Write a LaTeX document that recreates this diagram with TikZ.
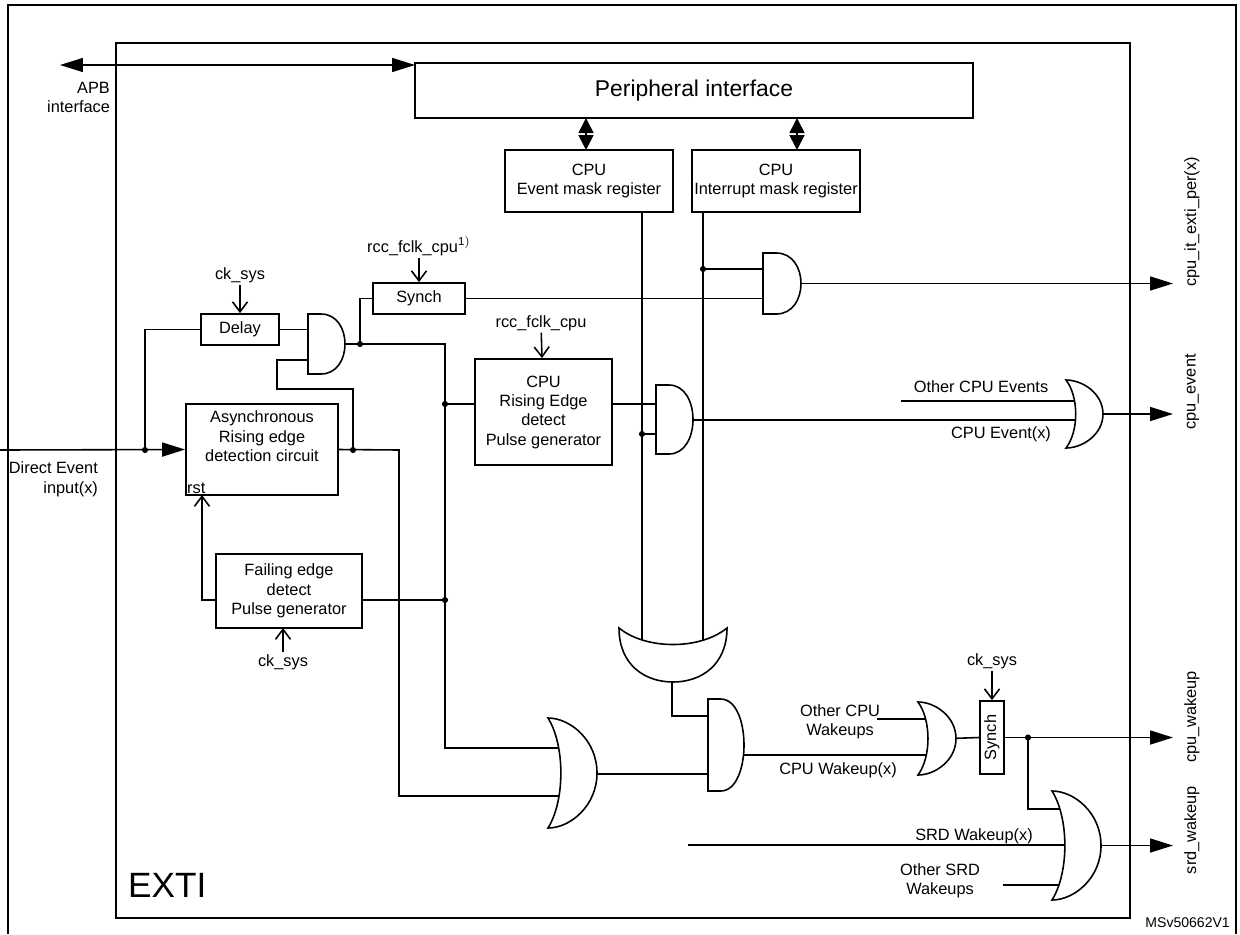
\documentclass[tikz,border=0pt]{standalone}
\usepackage{fontspec}
\setmainfont{Liberation Sans}
\usetikzlibrary{arrows.meta,positioning}
\tikzset{
	box/.style={draw, line width=1pt, fill=white, align=center, inner sep=0pt, font=\fontsize{9.3}{11}\selectfont},
	lbl/.style={inner sep=1pt, align=center, font=\fontsize{9.3}{11}\selectfont},
	wire/.style={line width=0.9pt},
	dot/.style={circle, fill, inner sep=0pt, minimum size=3.5pt},
	outarrow/.style={line width=0.9pt, -{Triangle[length=0.46cm,width=0.28cm]}},
	clk/.style={line width=0.9pt, -{Straight Barb[length=0.2cm,width=0.3cm]}}
}
\newcommand{\andgate}[4]{\draw[wire, fill=white] (#1,#2) -- ({#1+0.35*(#3-#1)},#2) .. controls ({#1+0.35*(#3-#1)+0.867*(#3-#1)},#2) and ({#1+0.35*(#3-#1)+0.867*(#3-#1)},#4) .. ({#1+0.35*(#3-#1)},#4) -- (#1,#4) -- cycle;}
\newcommand{\orgate}[4]{\draw[wire, fill=white] (#1,#2) .. controls ({#1+0.45*(#3-#1)},#2) and (#3,{#2+0.2*(#4-#2)}) .. (#3,{0.5*(#2+#4)}) .. controls (#3,{#2+0.8*(#4-#2)}) and ({#1+0.45*(#3-#1)},#4) .. (#1,#4) .. controls ({#1+0.35*(#3-#1)},{#2+0.75*(#4-#2)}) and ({#1+0.35*(#3-#1)},{#2+0.25*(#4-#2)}) .. (#1,#2) -- cycle;}
\begin{document}
\begin{tikzpicture}[x=0.02cm, y=-0.02cm]
	\useasboundingbox (0,0) rectangle (1240,934);
	% frames
	\draw[line width=1pt] (8,934) -- (8,5) -- (1236,5) -- (1236,934);
	\draw[line width=1pt] (116,43) rectangle (1130,918);
	\node[anchor=west, font=\fontsize{20}{24}\selectfont] (exti) at (122,885) {EXTI};
	\node[anchor=south east, font=\fontsize{8}{9}\selectfont] (ref) at (1236,934) {MSv50662V1};

	% boxes
	\node[box, minimum width=558*0.02cm, minimum height=55*0.02cm, font=\fontsize{13}{15}\selectfont] (periph) at (694,90.5) {Peripheral interface};
	\node[box, minimum width=168*0.02cm, minimum height=62*0.02cm] (evmask) at (589,181) {CPU\\Event mask register};
	\node[box, minimum width=168*0.02cm, minimum height=62*0.02cm] (itmask) at (776,181) {CPU\\Interrupt mask register};
	\node[box, minimum width=92*0.02cm, minimum height=31*0.02cm] (synchA) at (419,298.5) {Synch};
	\node[box, minimum width=78*0.02cm, minimum height=31*0.02cm] (delay) at (240,329.5) {Delay};
	\node[box, minimum width=152*0.02cm, minimum height=91*0.02cm] (async) at (262,449.5) {Asynchronous\\Rising edge\\detection circuit\\[4pt]};
	\node[lbl, anchor=south west] (rst) at (async.south west) {rst};
	\node[box, minimum width=137*0.02cm, minimum height=106*0.02cm] (rising) at (543.5,412) {CPU\\Rising Edge\\detect\\Pulse generator};
	\node[box, minimum width=146*0.02cm, minimum height=74*0.02cm] (failing) at (289,591) {Failing edge\\detect\\Pulse generator};
	\node[box, minimum width=24*0.02cm, minimum height=73*0.02cm] (synchB) at (992,737.5) {};
	\node[lbl, rotate=90] (synchBtxt) at (synchB.center) {Synch};

	% labels
	\node[lbl, align=right, anchor=north east] (apb) at (112,80) {APB\\interface};
	\node[lbl, align=right, anchor=north east] (direct) at (100,460) {Direct Event\\input(x)};
	\node[lbl] (ckA) at (240,275) {ck\_sys};
	\node[lbl] (rccA) at (419,246) {rcc\_fclk\_cpu$^{\mathrm{1)}}$};
	\node[lbl] (rccB) at (541,323) {rcc\_fclk\_cpu};
	\node[lbl] (ckB) at (283,662) {ck\_sys};
	\node[lbl] (ckC) at (992,661) {ck\_sys};
	\node[lbl] (othev) at (981,387) {Other CPU Events};
	\node[lbl] (cpuev) at (1001,434) {CPU Event(x)};
	\node[lbl] (othwk) at (840,722) {Other CPU\\Wakeups};
	\node[lbl] (cpuwk) at (838,770) {CPU Wakeup(x)};
	\node[lbl] (srdwk) at (974,836) {SRD Wakeup(x)};
	\node[lbl] (othsrd) at (940,881) {Other SRD\\Wakeups};
	\node[lbl, rotate=90] (oitper) at (1192,222) {cpu\_it\_exti\_per(x)};
	\node[lbl, rotate=90] (oev) at (1192,392) {cpu\_event};
	\node[lbl, rotate=90] (owk) at (1192,717) {cpu\_wakeup};
	\node[lbl, rotate=90] (osrd) at (1192,830) {srd\_wakeup};

	% bus arrows
	\draw[line width=0.9pt, {Triangle[length=0.46cm,width=0.28cm]}-{Triangle[length=0.46cm,width=0.28cm]}] (60,65) -- (415,65);
	\draw[line width=0.9pt, {Triangle[length=0.3cm,width=0.3cm]}-{Triangle[length=0.3cm,width=0.3cm]}] (586,118) -- (586,150);
	\draw[line width=0.9pt, {Triangle[length=0.3cm,width=0.3cm]}-{Triangle[length=0.3cm,width=0.3cm]}] (797,118) -- (797,150);

	% clocks
	\draw[clk] (ckA) -- (delay);
	\draw[clk] (rccA.south -| synchA.north) -- (synchA);
	\draw[clk] (rccB) -- (rising);
	\draw[clk] (ckB) -- (283,628);
	\draw[clk] (ckC) -- (synchB);

	% wires
	\draw[outarrow] (0,450) -- (async.west);
	\draw[wire] (145,450) -- (145,329.5) -- (delay.west);
	\draw[wire] (delay.east) -- (310,329.5);
	\draw[wire] (310,360) -- (277,360) -- (277,389) -- (353,389) -- (353,450);
	\draw[wire] (async.east) -- (399,450) -- (399,796) -- (565,796);
	\draw[wire] (340,344) -- (445,344) -- (445,748) -- (565,748);
	\draw[wire] (360,344) -- (360,298.5) -- (synchA.west);
	\draw[wire] (synchA.east) -- (765,298.5);
	\draw[wire] (445,404) -- (475,404);
	\draw[wire] (612,404) -- (658,404);
	\draw[wire] (642,212) -- (642,670);
	\draw[wire] (703,212) -- (703,670);
	\draw[wire] (642,434) -- (658,434);
	\draw[wire] (703,269) -- (765,269);
	\draw[outarrow] (795,283.5) -- (1173,283.5);
	\draw[wire] (690,420) -- (1080,420);
	\draw[wire] (901,401) -- (1080,401);
	\draw[outarrow] (1100,414) -- (1173,414);
	\draw[wire] (362,600) -- (445,600);
	\draw[clk] (216,600) -- (202,600) -- (202,495);
	\draw[wire] (672,675) -- (672,716) -- (710,716);
	\draw[wire] (590,774) -- (710,774);
	\draw[wire] (740,755) -- (930,755);
	\draw[wire] (877,719) -- (930,719);
	\draw[wire] (950,738.5) -- (synchB.west);
	\draw[outarrow] (synchB.east) -- (1173,737.5);
	\draw[wire] (1028,737.5) -- (1028,809) -- (1070,809);
	\draw[wire] (688,845) -- (1070,845);
	\draw[wire] (1003,885) -- (1070,885);
	\draw[outarrow] (1095,845.5) -- (1173,845.5);

	% dots
	\foreach \p/\q in {145/450, 353/450, 360/344, 445/404, 445/600, 642/434, 703/269, 1028/737.5}
		\node[dot] at (\p,\q) {};

	% gates
	\andgate{308}{314}{345}{374}
	\andgate{763}{253}{801}{314}
	\andgate{656}{385}{693}{454}
	\andgate{708}{699}{744}{791}
	\orgate{548}{718}{597}{828}
	\orgate{918}{702}{956}{775}
	\orgate{1052}{791}{1101}{900}
	\orgate{1066}{380}{1103}{448}
	\draw[wire, fill=white] (619,628) .. controls (619,665) and (645,682) .. (673,682) .. controls (701,682) and (727,665) .. (727,628) .. controls (700,650) and (646,650) .. (619,628) -- cycle;
\end{tikzpicture}
\end{document}
